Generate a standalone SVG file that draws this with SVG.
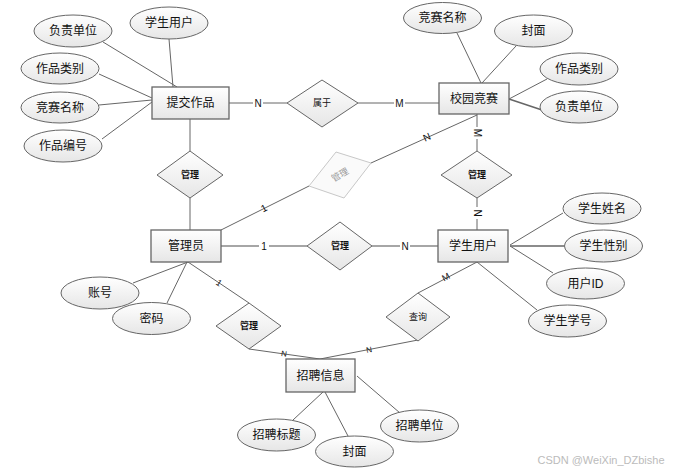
<svg xmlns="http://www.w3.org/2000/svg" width="680" height="474" viewBox="0 0 680 474">
<defs>
<linearGradient id="g" x1="0" y1="0" x2="0" y2="1"><stop offset="0" stop-color="#ffffff"/><stop offset="1" stop-color="#e6e6e6"/></linearGradient>
<style>
text{font-family:"Liberation Sans","Noto Sans CJK SC",sans-serif;text-anchor:middle;dominant-baseline:central;fill:#111}
.e rect{fill:url(#g);stroke:#666;stroke-width:1.3}
.a ellipse{fill:url(#g);stroke:#666;stroke-width:1}
.d polygon{fill:url(#g);stroke:#666;stroke-width:1}
.t{font-size:12px}
.s{font-size:9px;font-weight:bold}
.l{font-size:10px}
#conn line{stroke:#666;stroke-width:1}
</style>
</defs>
<rect width="680" height="474" fill="#fff"/>
<g id="conn">
<line x1="103" y1="42" x2="177" y2="87"/>
<line x1="169" y1="39" x2="173" y2="87"/>
<line x1="99" y1="74" x2="152" y2="98"/>
<line x1="99" y1="105" x2="152" y2="100"/>
<line x1="102" y1="139" x2="152" y2="102"/>
<line x1="229" y1="103" x2="287" y2="103"/>
<line x1="358" y1="103" x2="439" y2="103"/>
<line x1="457" y1="33" x2="481" y2="83"/>
<line x1="516" y1="46" x2="482" y2="83"/>
<line x1="547" y1="79" x2="509" y2="99"/>
<line x1="509" y1="99" x2="542" y2="110" style="stroke-width:1.5"/>
<line x1="477" y1="114" x2="477" y2="151"/>
<line x1="477" y1="115" x2="371" y2="163"/>
<line x1="309" y1="186" x2="221" y2="230"/>
<line x1="190" y1="119" x2="190" y2="151"/>
<line x1="190" y1="198" x2="190" y2="230"/>
<line x1="477" y1="198" x2="477" y2="230"/>
<line x1="221" y1="246" x2="307" y2="246" style="stroke-width:1.5;stroke:#888"/>
<line x1="372" y1="246" x2="438" y2="246" style="stroke-width:1.5;stroke:#888"/>
<line x1="510" y1="245" x2="563" y2="213"/>
<line x1="510" y1="246" x2="564" y2="246" style="stroke-width:1.5"/>
<line x1="510" y1="246" x2="553" y2="273"/>
<line x1="477" y1="262" x2="537" y2="310"/>
<line x1="477" y1="262" x2="418" y2="293"/>
<line x1="418" y1="340" x2="320" y2="359"/>
<line x1="249" y1="349" x2="320" y2="359"/>
<line x1="188" y1="262" x2="249" y2="303"/>
<line x1="188" y1="262" x2="133" y2="283"/>
<line x1="187" y1="262" x2="167" y2="303"/>
<line x1="323" y1="392" x2="293" y2="420"/>
<line x1="325" y1="392" x2="348" y2="436"/>
<line x1="357" y1="376" x2="400" y2="413"/>
</g>
<g id="labels">
<rect x="253" y="97" width="10" height="12" fill="#fff"/><text class="l" x="258" y="103">N</text>
<rect x="394" y="97" width="11" height="12" fill="#fff"/><text class="l" x="399.5" y="103" fill="#123">M</text>
<rect x="471" y="127" width="12" height="12" fill="#fff"/><text class="l" x="477" y="133" transform="rotate(90 477 133)">M</text>
<text class="l" x="427" y="137" transform="rotate(-24 427 137)">N</text>
<text class="l" x="264" y="208" transform="rotate(-27 264 208)">1</text>
<rect x="471" y="207" width="12" height="12" fill="#fff"/><text class="l" x="477" y="213" transform="rotate(90 477 213)">N</text>
<rect x="259" y="240" width="10" height="12" fill="#fff"/><text class="l" x="264" y="246" fill="#3a2a1a">1</text>
<rect x="400" y="240" width="10" height="12" fill="#fff"/><text class="l" x="405" y="246">N</text>
<text class="l" x="446" y="277" transform="rotate(-28 446 277)" style="font-size:9px">M</text>
<text class="l" x="369" y="350" transform="rotate(-11 369 350)" style="font-size:8px">N</text>
<text class="l" x="284" y="354" transform="rotate(8 284 354)" style="font-size:8px">N</text>
<text class="l" x="219" y="283" transform="rotate(34 219 283)" style="font-size:9px">1</text>
</g>
<g id="e1" class="e"><rect x="152" y="87" width="77" height="32"/><text class="t" x="190.5" y="103">提交作品</text></g>
<g id="e2" class="e"><rect x="439" y="83" width="70" height="31"/><text class="t" x="474" y="98.5">校园竞赛</text></g>
<g id="e3" class="e"><rect x="151" y="230" width="70" height="32"/><text class="t" x="186" y="246">管理员</text></g>
<g id="e4" class="e"><rect x="438" y="230" width="70" height="32"/><text class="t" x="473" y="246">学生用户</text></g>
<g id="e5" class="e"><rect x="286" y="359" width="69" height="33"/><text class="t" x="320.5" y="375.5">招聘信息</text></g>
<g id="r1" class="d"><polygon points="322,80 358,103 322,127 287,103"/><text class="s" x="322" y="103" style="font-weight:normal">属于</text></g>
<g id="r2" class="d"><polygon points="190,151 223,175 190,198 157,175"/><text class="s" x="190" y="175">管理</text></g>
<g id="r3" class="d"><polygon points="336,152 371,163 344,198 309,186" style="stroke:#c8c8c8;fill:#fafafa"/><text class="s" x="340" y="175" transform="rotate(-30 340 175)" style="fill:#999;font-weight:normal">管理</text></g>
<g id="r4" class="d"><polygon points="477,151 512,175 477,198 441,175"/><text class="s" x="477" y="175">管理</text></g>
<g id="r5" class="d"><polygon points="340,222 372,246 340,270 307,246"/><text class="s" x="340" y="246">管理</text></g>
<g id="r6" class="d"><polygon points="249,303 281,326 249,349 216,326"/><text class="s" x="249" y="326">管理</text></g>
<g id="r7" class="d"><polygon points="418,293 450,317 418,341 386,317"/><text class="s" x="418" y="317" style="font-weight:normal">查询</text></g>
<g id="a1" class="a"><ellipse cx="73" cy="31" rx="39" ry="16"/><text class="t" x="73" y="31">负责单位</text></g>
<g id="a2" class="a"><ellipse cx="169" cy="23" rx="39" ry="16"/><text class="t" x="169" y="23">学生用户</text></g>
<g id="a3" class="a"><ellipse cx="60" cy="68.5" rx="39" ry="15.5"/><text class="t" x="60" y="68.5">作品类别</text></g>
<g id="a4" class="a"><ellipse cx="60" cy="107.5" rx="39" ry="15.5"/><text class="t" x="60" y="107.5">竞赛名称</text></g>
<g id="a5" class="a"><ellipse cx="63" cy="146" rx="39" ry="16"/><text class="t" x="63" y="146">作品编号</text></g>
<g id="a6" class="a"><ellipse cx="442.5" cy="18" rx="39" ry="15.5"/><text class="t" x="442.5" y="18">竞赛名称</text></g>
<g id="a7" class="a"><ellipse cx="533.5" cy="31" rx="39" ry="16"/><text class="t" x="533.5" y="31">封面</text></g>
<g id="a8" class="a"><ellipse cx="579" cy="69" rx="39" ry="16"/><text class="t" x="579" y="69">作品类别</text></g>
<g id="a9" class="a"><ellipse cx="579" cy="107" rx="39" ry="16"/><text class="t" x="579" y="107">负责单位</text></g>
<g id="a10" class="a"><ellipse cx="100" cy="293" rx="39" ry="16"/><text class="t" x="100" y="293">账号</text></g>
<g id="a11" class="a"><ellipse cx="151.5" cy="318.5" rx="39" ry="16"/><text class="t" x="151.5" y="318.5">密码</text></g>
<g id="a12" class="a"><ellipse cx="602" cy="208.5" rx="39" ry="15.5"/><text class="t" x="602" y="208.5">学生姓名</text></g>
<g id="a13" class="a"><ellipse cx="603.5" cy="246" rx="39" ry="16"/><text class="t" x="603.5" y="246">学生性别</text></g>
<g id="a14" class="a"><ellipse cx="585.5" cy="283.5" rx="39" ry="15.5"/><text class="t" x="585.5" y="283.5">用户ID</text></g>
<g id="a15" class="a"><ellipse cx="567.5" cy="321" rx="39" ry="16"/><text class="t" x="567.5" y="321">学生学号</text></g>
<g id="a16" class="a"><ellipse cx="276.5" cy="435" rx="39" ry="16"/><text class="t" x="276.5" y="435">招聘标题</text></g>
<g id="a17" class="a"><ellipse cx="354.5" cy="451.5" rx="39" ry="15.5"/><text class="t" x="354.5" y="451.5">封面</text></g>
<g id="a18" class="a"><ellipse cx="419.5" cy="426" rx="39" ry="16"/><text class="t" x="419.5" y="426">招聘单位</text></g>
<text x="601" y="460" style="font-size:11px;fill:#bbb">CSDN @WeiXin_DZbishe</text>
</svg>
